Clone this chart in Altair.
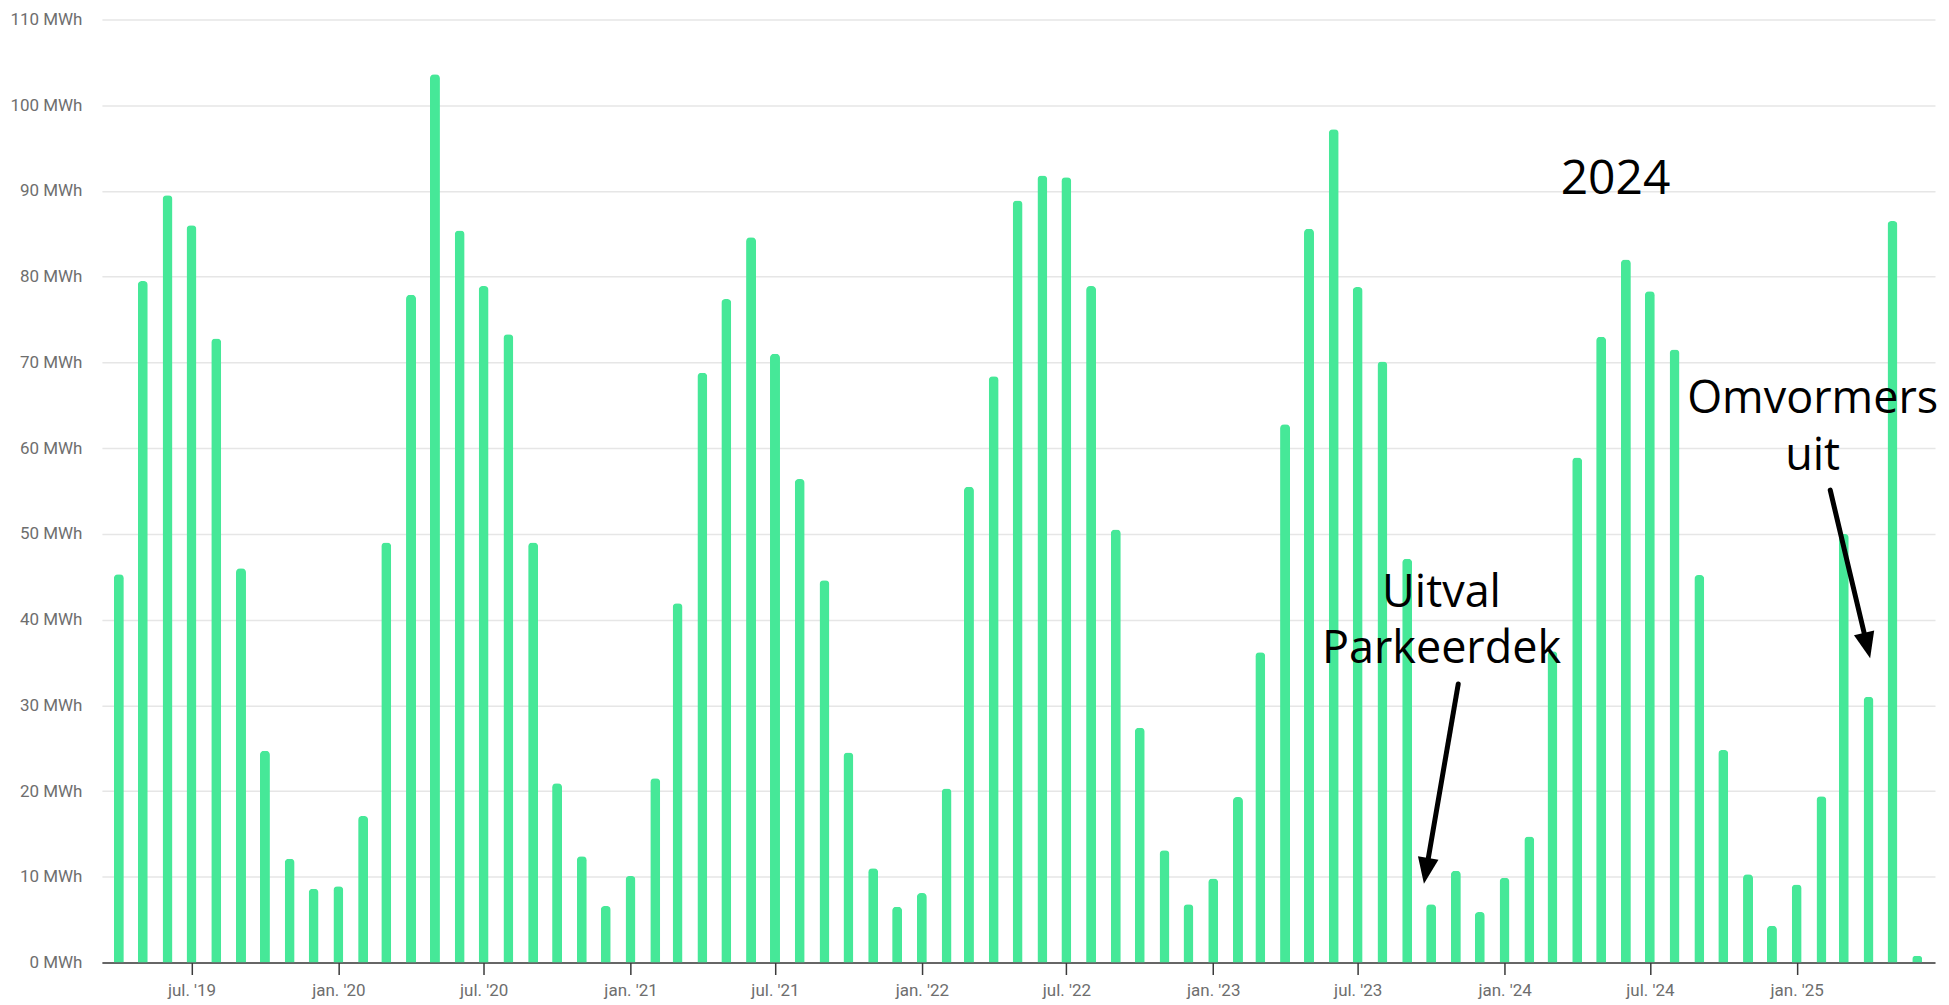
import altair as alt
import pandas as pd

# ---- data -------------------------------------------------------------
start_month = "2019-04-01"
values_mwh = [
    45.3, 79.5, 89.5, 86.0, 72.8, 46.0, 24.7, 12.1, 8.6,                 # 2019 apr-dec
    8.9, 17.1, 49.0, 77.9, 103.6, 85.4, 78.9, 73.3, 49.0, 20.9, 12.4, 6.6,  # 2020
    10.1, 21.5, 41.9, 68.8, 77.4, 84.6, 71.0, 56.4, 44.6, 24.5, 11.0, 6.5,  # 2021
    8.1, 20.3, 55.5, 68.4, 88.9, 91.8, 91.6, 78.9, 50.5, 27.4, 13.1, 6.8,   # 2022
    9.8, 19.3, 36.2, 62.8, 85.6, 97.2, 78.8, 70.1, 47.1, 6.8, 10.7, 5.9,    # 2023
    9.9, 14.7, 36.3, 58.9, 73.0, 82.0, 78.3, 71.5, 45.2, 24.8, 10.3, 4.3,   # 2024
    9.1, 19.4, 50.0, 31.0, 86.5, 0.8,                                     # 2025 jan-jun
]
months = pd.date_range(start_month, periods=len(values_mwh), freq="MS")

tick_months = ["2019-07", "2020-01", "2020-07", "2021-01", "2021-07", "2022-01",
               "2022-07", "2023-01", "2023-07", "2024-01", "2024-07", "2025-01"]
tick_labels = ["jul. '19", "jan. '20", "jul. '20", "jan. '21", "jul. '21", "jan. '22",
               "jul. '22", "jan. '23", "jul. '23", "jan. '24", "jul. '24", "jan. '25"]

y_ticks = [0, 10, 20, 30, 40, 50, 60, 70, 80, 90, 100, 110]

# annotations (in data coordinates)
text_labels = ["2024", "Uitval", "Parkeerdek", "Omvormers", "uit"]
text_dates = ["2024-05-19", "2023-10-14", "2023-10-14", "2025-01-21", "2025-01-21"]
text_values = [89.7, 41.5, 34.9, 64.1, 57.4]
text_sizes = [48, 45, 45, 45, 45]

arrow_start_dates = ["2023-11-04", "2025-02-12"]
arrow_start_values = [32.5, 55.1]
arrow_tip_dates = ["2023-09-22", "2025-04-03"]
arrow_tip_values = [9.2, 35.5]
arrow_angles = [9.4, 346.5]

# ---- tables -------------------------------------------------------------
df = pd.DataFrame({"month": months, "value": values_mwh})

x_scale = alt.Scale(domain=[alt.DateTime(year=2019, month=3, date=17),
                            alt.DateTime(year=2025, month=6, date=17)])
y_scale = alt.Scale(domain=[0, 110], nice=False, zero=True)

label_expr = "''"
for d, l in reversed(list(zip(tick_months, tick_labels))):
    label_expr = f"timeFormat(datum.value, '%Y-%m') == '{d}' ? \"{l}\" : ({label_expr})"

tick_values = [alt.DateTime(year=int(d[:4]), month=int(d[5:]), date=1) for d in tick_months]

x_axis = alt.Axis(
    values=tick_values, labelExpr=label_expr, title=None, grid=False,
    tickSize=12, tickColor="#3a3a3a", tickWidth=1.5,
    domainColor="#3a3a3a", domainWidth=1.5,
    labelPadding=8, labelFontSize=17, labelColor="#6e6e6e", labelFont="Roboto",
)
y_axis = alt.Axis(
    values=y_ticks, labelExpr="datum.value + ' MWh'", title=None,
    ticks=False, domain=False, grid=True, gridColor="#e6e6e6", gridWidth=1.5,
    labelPadding=20, labelFontSize=17, labelColor="#6e6e6e", labelFont="Roboto",
)

bars = alt.Chart(df).mark_bar(width=10, color="#46E898", cornerRadiusEnd=4).encode(
    x=alt.X("month:T", scale=x_scale, axis=x_axis),
    y=alt.Y("value:Q", scale=y_scale, axis=y_axis),
)

layers = [bars]

# texts
tdf = pd.DataFrame({
    "date": pd.to_datetime(text_dates), "value": text_values,
    "label": text_labels, "size": text_sizes,
})
for size in sorted(set(text_sizes)):
    sub = tdf[tdf["size"] == size]
    layers.append(
        alt.Chart(sub).mark_text(
            font="Open Sans", fontSize=size, color="black",
            align="center", baseline="alphabetic",
        ).encode(
            x=alt.X("date:T", scale=x_scale),
            y=alt.Y("value:Q", scale=y_scale),
            text="label:N",
        )
    )

# arrows
head_path = "M0,0 L-0.4,-1 L0.4,-1 Z"
for sd, sv, td, tv, ang in zip(arrow_start_dates, arrow_start_values,
                               arrow_tip_dates, arrow_tip_values, arrow_angles):
    s = pd.Timestamp(sd)
    t = pd.Timestamp(td)
    frac = 0.92
    end_d = s + (t - s) * frac
    end_v = sv + (tv - sv) * frac
    adf = pd.DataFrame({"d1": [s], "v1": [sv], "d2": [end_d], "v2": [end_v],
                        "tipd": [t], "tipv": [tv]})
    layers.append(
        alt.Chart(adf).mark_rule(color="black", strokeWidth=5, strokeCap="round").encode(
            x=alt.X("d1:T", scale=x_scale), y=alt.Y("v1:Q", scale=y_scale),
            x2="d2:T", y2="v2:Q",
        )
    )
    layers.append(
        alt.Chart(adf).mark_point(
            shape=head_path, filled=True, color="black", opacity=1,
            size=2704, angle=ang, strokeWidth=0,
        ).encode(
            x=alt.X("tipd:T", scale=x_scale), y=alt.Y("tipv:Q", scale=y_scale),
        )
    )

chart = alt.layer(*layers).properties(
    width=1835, height=944,
    padding={"left": 94, "top": 11, "right": 6, "bottom": 40},
    autosize=alt.AutoSizeParams(type="none"),
).configure_view(stroke=None)

chart.save("out.html", embed_options={"renderer": "svg", "actions": False})
